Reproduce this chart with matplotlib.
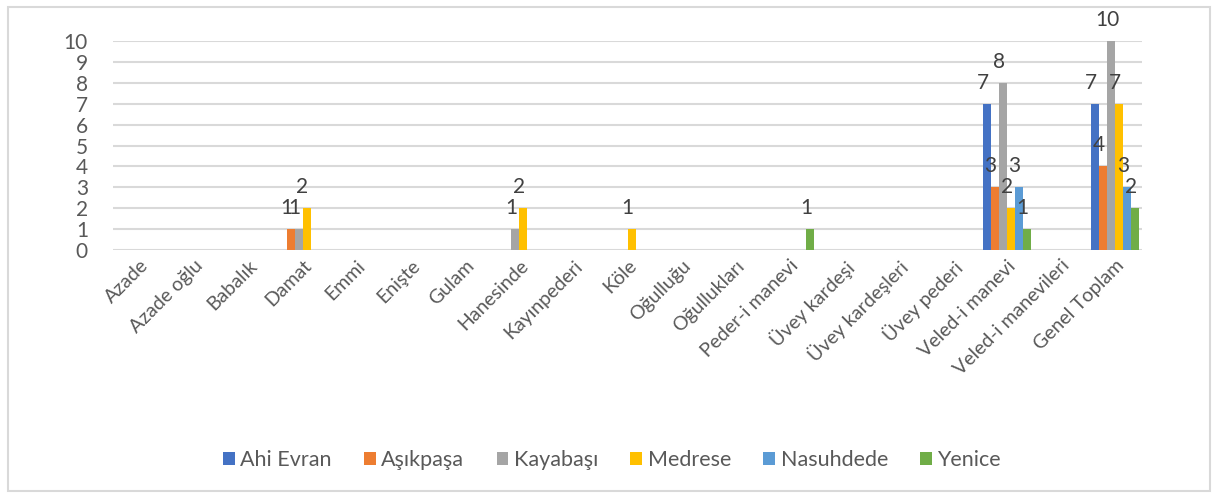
import matplotlib
matplotlib.use("Agg")
import matplotlib.pyplot as plt
import numpy as np
from matplotlib.patches import Rectangle

plt.rcParams['font.family'] = ['Lato', 'DejaVu Sans']

categories = ["Azade", "Azade oğlu", "Babalık", "Damat", "Emmi", "Enişte", "Gulam",
              "Hanesinde", "Kayınpederi", "Köle", "Oğulluğu", "Oğullukları",
              "Peder-i manevi", "Üvey kardeşi", "Üvey kardeşleri", "Üvey pederi",
              "Veled-i manevi", "Veled-i manevileri", "Genel Toplam"]

ahi_evran = [0, 0, 0, 0, 0, 0, 0, 0, 0, 0, 0, 0, 0, 0, 0, 0, 7, 0, 7]
asikpasa  = [0, 0, 0, 1, 0, 0, 0, 0, 0, 0, 0, 0, 0, 0, 0, 0, 3, 0, 4]
kayabasi  = [0, 0, 0, 1, 0, 0, 0, 1, 0, 0, 0, 0, 0, 0, 0, 0, 8, 0, 10]
medrese   = [0, 0, 0, 2, 0, 0, 0, 2, 0, 1, 0, 0, 0, 0, 0, 0, 2, 0, 7]
nasuhdede = [0, 0, 0, 0, 0, 0, 0, 0, 0, 0, 0, 0, 0, 0, 0, 0, 3, 0, 3]
yenice    = [0, 0, 0, 0, 0, 0, 0, 0, 0, 0, 0, 0, 1, 0, 0, 0, 1, 0, 2]

series = [("Ahi Evran", ahi_evran, "#4472C4"),
          ("Aşıkpaşa", asikpasa, "#ED7D31"),
          ("Kayabaşı", kayabasi, "#A5A5A5"),
          ("Medrese", medrese, "#FFC000"),
          ("Nasuhdede", nasuhdede, "#5B9BD5"),
          ("Yenice", yenice, "#70AD47")]

W, H = 1219, 497
fig = plt.figure(figsize=(W / 100, H / 100), dpi=100)
ax = fig.add_axes([113 / W, (H - 250) / H, (1142 - 113) / W, (250 - 41) / H])

# outer chart frame
fig.patches.append(Rectangle((8 / W, 6 / H), (1210 - 8) / W, (490 - 6) / H,
                             transform=fig.transFigure, fill=False,
                             edgecolor="#D9D9D9", linewidth=1.5))

x = np.arange(len(categories))
bw = 0.148
for i, (name, vals, col) in enumerate(series):
    pos = x + (i - 2.5) * bw
    ax.bar(pos, vals, bw, color=col, label=name, zorder=3)
    for px, v in zip(pos, vals):
        if v > 0:
            ax.annotate(str(v), (px, v), xytext=(-4, 11), textcoords="offset pixels",
                        ha="center", va="bottom", fontsize=15, color="#404040", zorder=4)

ax.set_xlim(-0.5, len(categories) - 0.5)
ax.set_ylim(0, 10)
ax.set_yticks(range(0, 11))
ax.yaxis.grid(True, color="#D9D9D9", linewidth=1.5, zorder=0)
ax.set_axisbelow(True)
for s in ax.spines.values():
    s.set_visible(False)
ax.tick_params(axis="both", length=0, labelcolor="#595959")
ax.tick_params(axis="y", pad=18, labelsize=15)
ax.tick_params(axis="x", pad=5)
ax.set_xticks(x)
ax.set_xticklabels(categories, rotation=45, ha="right", rotation_mode="anchor", fontsize=14)

fig.legend(loc="center", bbox_to_anchor=(612 / W, (H - 460) / H), ncol=6, frameon=False,
           fontsize=15.5, handlelength=0.55, handleheight=0.55, handletextpad=0.25,
           columnspacing=1.5, labelcolor="#595959")

fig.savefig("out.png", dpi=100)
